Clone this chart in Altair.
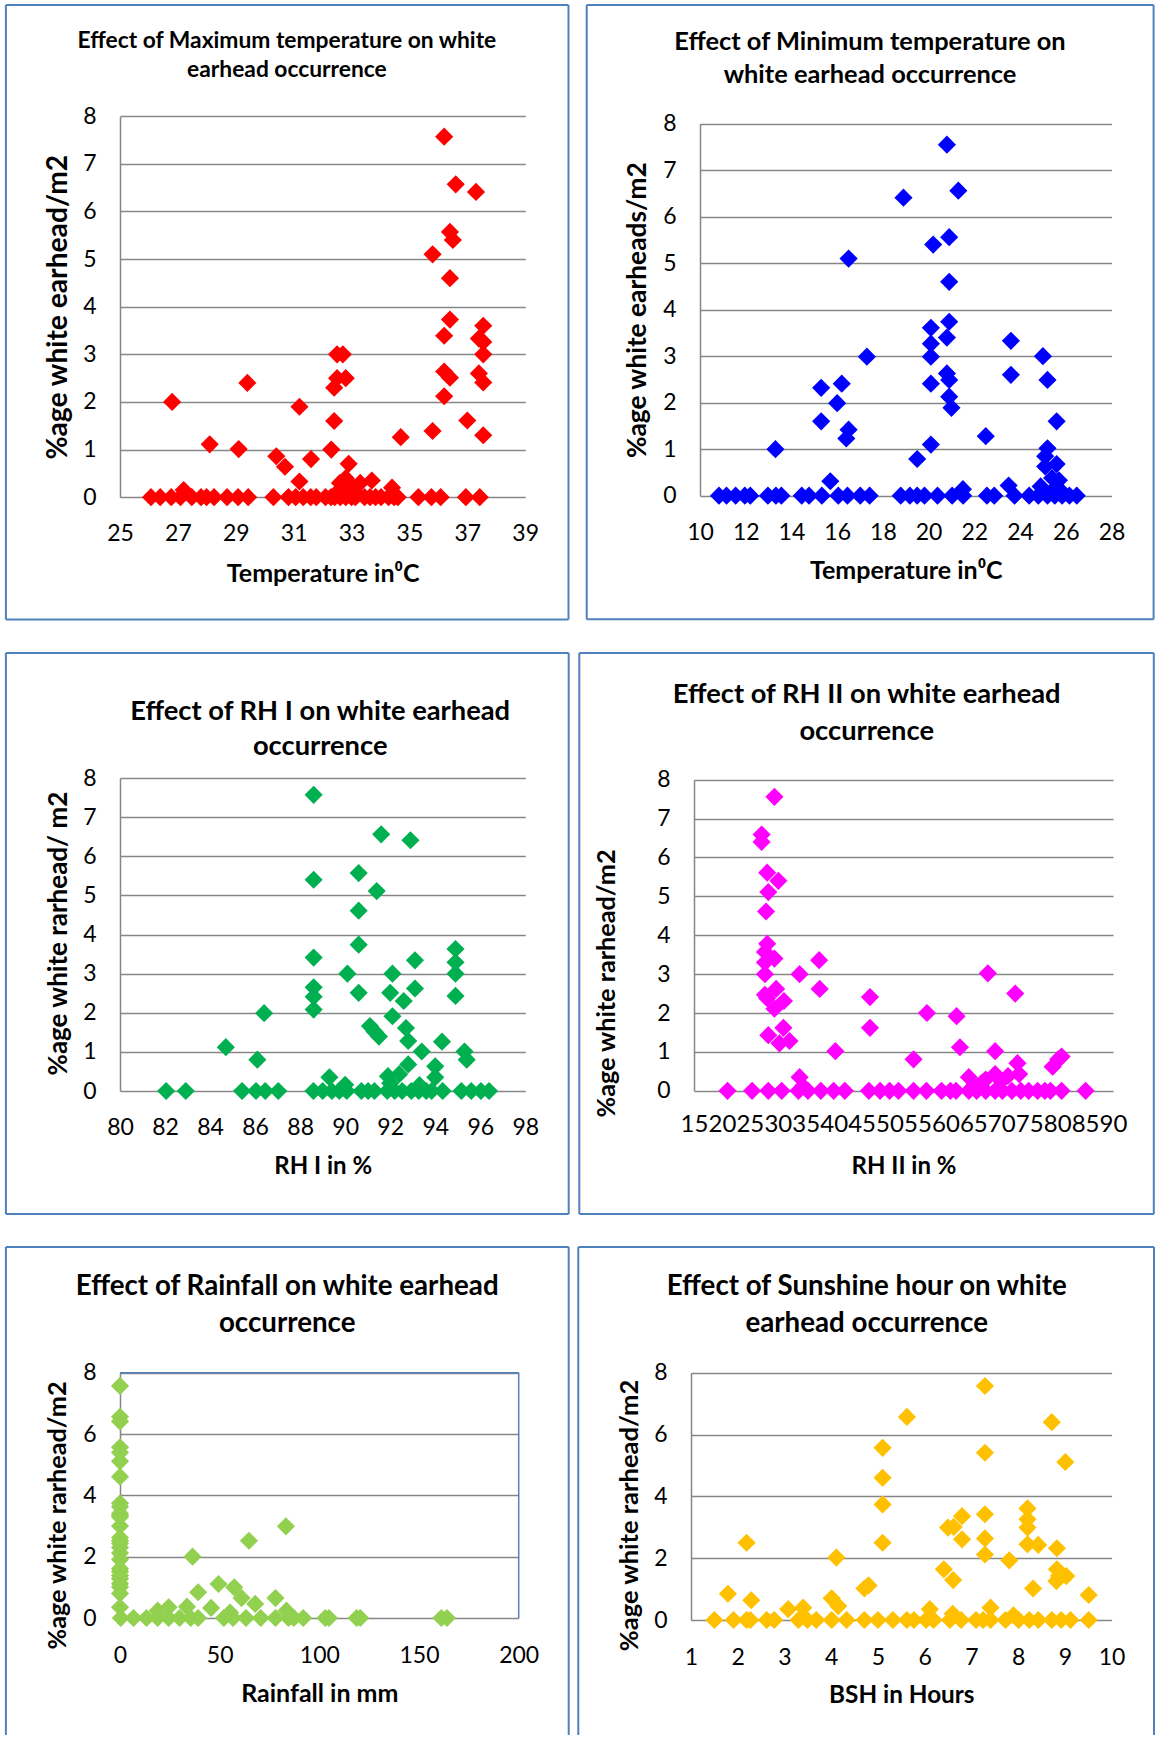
import altair as alt
import pandas as pd

FONT = "Lato"
BOX = "#4F81BD"
GRID = "#868686"

# ---- observations: (weather variable, % white earheads per m2) ----
tmax_pts = [
    (26.8, 2.0), (29.4, 2.4), (28.1, 1.11), (29.1, 1.01), (30.4, 0.86), (30.7, 0.64),
    (31.2, 1.9), (31.2, 0.33), (31.6, 0.8), (32.3, 1.0), (32.4, 1.6), (32.4, 2.3),
    (32.5, 2.5), (32.8, 2.5), (32.5, 3.0), (32.7, 3.0), (32.9, 0.7), (32.6, 0.3),
    (32.8, 0.4), (33.3, 0.3), (33.7, 0.35), (34.4, 0.2), (34.7, 1.26), (35.8, 1.39),
    (35.8, 5.1), (36.2, 7.57), (36.4, 5.57), (36.5, 5.4), (36.6, 6.57), (37.3, 6.41),
    (36.4, 4.6), (36.4, 3.73), (36.2, 3.39), (36.2, 2.64), (36.4, 2.51), (36.2, 2.12),
    (37.0, 1.61), (37.55, 3.6), (37.4, 3.33), (37.55, 3.26), (37.55, 3.0), (37.4, 2.6),
    (37.55, 2.41), (37.55, 1.3), (27.2, 0.15), (32.9, 0.15), (33.1, 0.1), (32.7, 0.2),
    (33.0, 0.25), (32.5, 0.1), (33.2, 0.05),
    (26.07, 0), (26.39, 0), (26.77, 0), (27.09, 0), (27.48, 0), (27.8, 0), (27.99, 0),
    (28.25, 0), (28.7, 0), (29.08, 0), (29.43, 0), (30.3, 0), (30.82, 0), (31.07, 0),
    (31.33, 0), (31.59, 0), (31.78, 0), (32.1, 0), (32.29, 0), (32.42, 0), (32.61, 0),
    (32.8, 0), (33.0, 0), (33.13, 0), (33.45, 0), (33.64, 0), (33.83, 0), (34.02, 0),
    (34.28, 0), (34.47, 0), (34.6, 0), (35.31, 0), (35.76, 0), (36.08, 0), (36.95, 0),
    (37.43, 0),
]

tmin_pts = [
    (13.3, 1.0), (15.3, 2.32), (15.3, 1.6), (15.7, 0.31), (16.0, 1.99), (16.2, 2.41),
    (16.4, 1.23), (16.5, 1.42), (16.5, 5.1), (17.3, 2.99), (18.9, 6.41), (19.5, 0.79),
    (20.1, 1.1), (20.1, 2.41), (20.1, 2.99), (20.1, 3.27), (20.1, 3.61), (20.2, 5.4),
    (20.8, 7.55), (20.9, 5.56), (20.9, 4.6), (20.9, 3.74), (20.8, 3.4), (20.8, 2.63),
    (20.9, 2.49), (20.9, 2.13), (21.0, 1.89), (21.3, 6.56), (21.5, 0.14), (22.5, 1.28),
    (23.6, 3.33), (23.6, 2.6), (23.5, 0.22), (25.0, 3.0), (25.2, 2.49), (25.6, 1.6),
    (25.2, 1.02), (25.1, 0.85), (25.1, 0.63), (25.6, 0.68), (25.4, 0.38), (25.7, 0.33),
    (24.9, 0.2), (25.5, 0.15), (25.8, 0.1),
    (10.83, 0), (11.16, 0), (11.56, 0), (11.96, 0), (12.2, 0), (12.97, 0), (13.32, 0),
    (13.56, 0), (14.45, 0), (14.77, 0), (15.33, 0), (16.05, 0), (16.45, 0), (17.01, 0),
    (17.42, 0), (18.78, 0), (19.18, 0), (19.5, 0), (19.82, 0), (20.39, 0), (21.03, 0),
    (21.51, 0), (22.55, 0), (22.87, 0), (23.76, 0), (24.4, 0), (24.8, 0), (25.2, 0),
    (25.52, 0), (25.84, 0), (26.16, 0), (26.48, 0),
]

rh1_pts = [
    (88.6, 7.57), (88.6, 5.4), (88.6, 3.41), (88.6, 2.65), (88.6, 2.41), (88.6, 2.08),
    (84.7, 1.12), (86.4, 1.99), (86.1, 0.8), (89.3, 0.35), (90.1, 3.0), (90.6, 5.57),
    (90.6, 4.61), (90.6, 3.74), (90.6, 2.51), (91.1, 1.66), (91.3, 1.52), (91.5, 1.39),
    (91.4, 5.11), (91.6, 6.56), (92.0, 2.51), (92.1, 3.0), (92.1, 1.91), (92.6, 2.3),
    (92.7, 1.61), (92.8, 1.28), (92.8, 0.68), (92.9, 6.41), (93.1, 3.34), (93.1, 2.62),
    (93.4, 1.01), (94.0, 0.63), (94.0, 0.35), (94.3, 1.26), (94.9, 3.63), (94.9, 3.29),
    (94.9, 3.0), (94.9, 2.43), (95.3, 1.01), (95.4, 0.8), (91.9, 0.38), (92.4, 0.43),
    (90.0, 0.16), (92.0, 0.2), (93.3, 0.15),
    (82.05, 0), (82.92, 0), (85.42, 0), (86.04, 0), (86.45, 0), (87.03, 0), (88.59, 0),
    (89.0, 0), (89.41, 0), (89.74, 0), (90.07, 0), (90.72, 0), (91.02, 0), (91.3, 0),
    (91.87, 0), (92.2, 0), (92.53, 0), (92.94, 0), (93.27, 0), (93.6, 0), (93.84, 0),
    (94.33, 0), (95.16, 0), (95.6, 0), (96.03, 0), (96.39, 0),
]

rh2_pts = [
    (29.4, 7.56), (27.1, 6.59), (27.1, 6.4), (28.1, 5.61), (30.1, 5.4), (28.3, 5.11),
    (27.9, 4.61), (28.1, 3.78), (27.7, 3.57), (27.7, 3.3), (29.4, 3.4), (27.7, 3.0),
    (29.7, 2.62), (27.7, 2.47), (28.1, 2.38), (31.1, 2.31), (29.4, 2.11), (31.0, 1.62),
    (28.3, 1.43), (30.3, 1.22), (32.1, 1.28), (33.9, 3.0), (37.4, 3.36), (37.5, 2.62),
    (33.9, 0.35), (40.3, 1.02), (46.5, 2.41), (46.5, 1.62), (54.3, 0.81), (56.7, 2.0),
    (62.0, 1.92), (62.6, 1.12), (64.2, 0.35), (67.6, 3.02), (68.9, 1.02), (68.9, 0.43),
    (71.2, 0.38), (72.5, 2.5), (72.9, 0.71), (73.2, 0.43), (79.2, 0.62), (80.2, 0.81),
    (80.8, 0.88), (67.2, 0.29), (65.2, 0.14), (34.5, 0.12), (66.5, 0.2), (70.0, 0.25),
    (21.0, 0), (25.4, 0), (28.3, 0), (30.7, 0), (33.7, 0), (35.4, 0), (37.7, 0),
    (40.0, 0), (42.0, 0), (46.3, 0), (48.3, 0), (50.0, 0), (51.6, 0), (54.3, 0),
    (56.6, 0), (59.3, 0), (60.9, 0), (61.9, 0), (64.2, 0), (65.6, 0), (67.2, 0),
    (68.9, 0), (70.2, 0), (71.9, 0), (73.5, 0), (74.9, 0), (76.5, 0), (77.8, 0),
    (78.8, 0), (80.8, 0), (85.1, 0),
]

rain_pts = [
    (0, 7.57), (0, 6.56), (0, 6.41), (0, 5.57), (0, 5.4), (0, 5.11), (0, 4.61),
    (0, 3.74), (0, 3.63), (0, 3.41), (0, 3.34), (0, 3.29), (0, 3.0), (0, 2.62),
    (0, 2.51), (0, 2.43), (0, 2.3), (0, 2.12), (0, 1.91), (0, 1.61), (0, 1.52),
    (0, 1.39), (0, 1.28), (0, 1.12), (0, 1.01), (0, 0.8), (0, 0.35),
    (36.4, 2.0), (64.7, 2.52), (83.2, 2.99), (49.4, 1.11), (57.3, 1.0), (61.0, 0.65),
    (39.2, 0.84), (78.0, 0.65), (33.6, 0.37), (45.7, 0.33), (24.4, 0.35), (67.8, 0.46),
    (18.9, 0.24), (55.2, 0.18), (83.5, 0.24),
    (0.4, 0), (6.8, 0), (13.3, 0), (18.9, 0), (24.4, 0), (29.9, 0), (35.5, 0),
    (39.2, 0), (52.1, 0), (56.7, 0), (63.2, 0), (70.6, 0), (78.0, 0), (84.5, 0),
    (87.2, 0), (91.9, 0), (103.0, 0), (104.8, 0), (118.7, 0), (120.5, 0), (161.2, 0),
    (164.0, 0),
]

bsh_pts = [
    (7.29, 7.57), (5.62, 6.57), (8.72, 6.4), (5.1, 5.57), (7.29, 5.41), (9.01, 5.11),
    (5.1, 4.6), (5.1, 3.74), (5.1, 2.5), (2.19, 2.5), (4.11, 2.02), (6.8, 3.36),
    (7.29, 3.42), (8.2, 3.61), (8.2, 3.26), (8.2, 2.99), (6.5, 2.99), (6.62, 3.01),
    (6.8, 2.61), (7.29, 2.64), (7.29, 2.12), (8.2, 2.45), (8.43, 2.43), (8.83, 2.32),
    (7.81, 1.93), (6.41, 1.64), (6.61, 1.29), (8.83, 1.64), (8.87, 1.42), (9.03, 1.42),
    (8.82, 1.26), (8.32, 1.02), (9.51, 0.81), (4.71, 1.02), (4.8, 1.12), (1.79, 0.85),
    (2.29, 0.64), (4.01, 0.7), (4.15, 0.45), (3.08, 0.35), (3.4, 0.4), (6.11, 0.35),
    (7.41, 0.4), (6.6, 0.2), (7.9, 0.15),
    (1.5, 0), (1.91, 0), (2.19, 0), (2.27, 0), (2.62, 0), (2.78, 0), (3.3, 0),
    (3.49, 0), (3.68, 0), (4.01, 0), (4.33, 0), (4.71, 0), (5.0, 0), (5.32, 0),
    (5.62, 0), (5.77, 0), (6.03, 0), (6.19, 0), (6.54, 0), (6.78, 0), (7.1, 0),
    (7.25, 0), (7.41, 0), (7.73, 0), (8.01, 0), (8.24, 0), (8.43, 0), (8.72, 0),
    (8.92, 0), (9.12, 0), (9.51, 0),
]

# ---- axis ticks ----
tmax_ticks = [25, 27, 29, 31, 33, 35, 37, 39]
tmin_ticks = [10, 12, 14, 16, 18, 20, 22, 24, 26, 28]
rh1_ticks = [80, 82, 84, 86, 88, 90, 92, 94, 96, 98]
rh2_ticks = [15, 20, 25, 30, 35, 40, 45, 50, 55, 60, 65, 70, 75, 80, 85, 90]
rain_ticks = [0, 50, 100, 150, 200]
bsh_ticks = [1, 2, 3, 4, 5, 6, 7, 8, 9, 10]
y_ticks_1 = [0, 1, 2, 3, 4, 5, 6, 7, 8]
y_ticks_2 = [0, 2, 4, 6, 8]

# ---- panel layout (pixels, relative to each plot's left edge and its box top) ----
panels = [
    dict(pts=tmax_pts, color="#FF0000", xdom=[25, 39], xticks=tmax_ticks, yticks=y_ticks_1,
         W=405.2, H=492.2, top=111.2, box=(-114.1, 448.5, 614.5), closed=True,
         title=["Effect of Maximum temperature on white", "earhead occurrence"],
         tx=166.9, ty=[35.7, 64.5], tsize=22.8,
         ytitle="%age white earhead/m2", ytx=-61.3, yty=301.7, ytsize=28.2,
         xtitle="Temperature in\u2070C", xty=76.5, xtsize=25,
         xlab=23, xpad=25, frame=False),
    dict(pts=tmin_pts, color="#0000FF", xdom=[10, 28], xticks=tmin_ticks, yticks=y_ticks_1,
         W=411.5, H=490.7, top=118.7, box=(-113.3, 453.6, 614.2), closed=True,
         title=["Effect of Minimum temperature on", "white earhead occurrence"],
         tx=170.0, ty=[37.2, 70.0], tsize=25.4,
         ytitle="%age white earheads/m2", ytx=-62.5, yty=304.7, ytsize=26.3,
         xtitle="Temperature in\u2070C", xty=74.8, xtsize=25,
         xlab=23, xpad=26, frame=False),
    dict(pts=rh1_pts, color="#00B050", xdom=[80, 98], xticks=rh1_ticks, yticks=y_ticks_1,
         W=405.3, H=438.0, top=125.0, box=(-114.1, 448.7, 561.0), closed=True,
         title=["Effect of RH I on white earhead", "occurrence"],
         tx=200.2, ty=[58.9, 94.1], tsize=27.3,
         ytitle="%age white rarhead/ m2", ytx=-62.0, yty=280.0, ytsize=26,
         xtitle="RH I in %", xty=75.6, xtsize=24,
         xlab=23, xpad=25, frame=False),
    dict(pts=rh2_pts, color="#FF00FF", xdom=[15, 90], xticks=rh2_ticks, yticks=y_ticks_1,
         W=419.0, H=437.8, top=126.7, box=(-114.7, 459.8, 561.0), closed=True,
         title=["Effect of RH II on white earhead", "occurrence"],
         tx=172.7, ty=[42.2, 78.5], tsize=27.3,
         ytitle="%age white rarhead/m2", ytx=-87.2, yty=330.0, ytsize=25.2,
         xtitle="RH II in %", xty=75.8, xtsize=24,
         xlab=24, xpad=22, frame=False),
    dict(pts=rain_pts, color="#92D050", xdom=[0, 200], xticks=rain_ticks, yticks=y_ticks_2,
         W=398.7, H=371.0, top=125.7, box=(-114.1, 448.7, 488.0), closed=False,
         title=["Effect of Rainfall on white earhead", "occurrence"],
         tx=167.2, ty=[40.1, 76.8], tsize=27.7,
         ytitle="%age white rarhead/m2", ytx=-62.9, yty=268.0, ytsize=25.2,
         xtitle="Rainfall in mm", xty=75.3, xtsize=25,
         xlab=23, xpad=26, frame=True),
    dict(pts=bsh_pts, color="#FFC000", xdom=[1, 10], xticks=bsh_ticks, yticks=y_ticks_2,
         W=420.6, H=373.0, top=125.7, box=(-112.7, 463.0, 488.0), closed=False,
         title=["Effect of Sunshine hour on white", "earhead occurrence"],
         tx=175.7, ty=[40.1, 76.8], tsize=27.7,
         ytitle="%age white rarhead/m2", ytx=-61.1, yty=268.0, ytsize=25.5,
         xtitle="BSH in Hours", xty=75.0, xtsize=24.3,
         xlab=23, xpad=26, frame=False),
]


def build_panel(p):
    W, H, top = p["W"], p["H"], p["top"]
    left, right, bottom = p["box"]
    one = alt.Chart(pd.DataFrame({"k": [0]}))
    layers = []

    # chart-area border
    edges = [
        dict(x=alt.value(left), x2=alt.value(right), y=alt.value(0)),
        dict(x=alt.value(left), y=alt.value(0), y2=alt.value(bottom)),
        dict(x=alt.value(right), y=alt.value(0), y2=alt.value(bottom)),
    ]
    if p["closed"]:
        edges.append(dict(x=alt.value(left), x2=alt.value(right), y=alt.value(bottom)))
    for e in edges:
        layers.append(one.mark_rule(color=BOX, strokeWidth=2).encode(**e))

    # plot-area border (rainfall panel only)
    if p["frame"]:
        layers.append(one.mark_rule(color=BOX, strokeWidth=1.5).encode(
            x=alt.value(0), x2=alt.value(W), y=alt.value(top)))
        layers.append(one.mark_rule(color=BOX, strokeWidth=1.5).encode(
            x=alt.value(W), y=alt.value(top), y2=alt.value(H)))

    # two-line chart title
    for line, ty in zip(p["title"], p["ty"]):
        layers.append(one.mark_text(font=FONT, fontSize=p["tsize"], fontWeight="bold",
                                    align="center", baseline="middle", color="black").encode(
            x=alt.value(p["tx"]), y=alt.value(ty), text=alt.value(line)))

    df = pd.DataFrame(p["pts"], columns=["x", "y"])
    pts = alt.Chart(df).mark_point(shape="diamond", filled=True, size=330, opacity=1,
                                   color=p["color"], strokeWidth=0).encode(
        x=alt.X("x:Q",
                scale=alt.Scale(domain=p["xdom"], nice=False, zero=False),
                axis=alt.Axis(values=p["xticks"], format="d", grid=False, domain=False,
                              ticks=False, tickSize=0, labelFont=FONT,
                              labelFontSize=p["xlab"], labelColor="black",
                              labelPadding=p["xpad"], labelFlush=False, labelOverlap=False,
                              title=p["xtitle"], titleFont=FONT, titleFontSize=p["xtsize"],
                              titleFontWeight="bold", titleColor="black",
                              titleX=W / 2, titleY=p["xty"], titleAlign="center",
                              titleBaseline="middle")),
        y=alt.Y("y:Q",
                scale=alt.Scale(domain=[0, 8], range=[H, top], nice=False),
                axis=alt.Axis(values=p["yticks"], format="d", grid=True, gridColor=GRID,
                              gridWidth=1.5, domain=True, domainColor=GRID, domainWidth=1.5,
                              ticks=False, tickSize=0, labelFont=FONT, labelFontSize=23,
                              labelColor="black", labelPadding=24, labelOverlap=False,
                              title=p["ytitle"], titleFont=FONT, titleFontSize=p["ytsize"],
                              titleFontWeight="bold", titleColor="black",
                              titleX=p["ytx"], titleY=p["yty"], titleAngle=270,
                              titleAlign="center", titleBaseline="middle")),
    )
    layers.append(pts)
    return alt.layer(*layers).properties(width=W, height=H)


charts = [build_panel(p) for p in panels]
row1 = alt.hconcat(charts[0], charts[1], spacing=15)
row2 = alt.hconcat(charts[2], charts[3], spacing=8)
row3 = alt.hconcat(charts[4], charts[5], spacing=7)

chart = alt.vconcat(row1, row2, row3, spacing=31).properties(
    padding={"left": 4, "top": 4, "right": 0, "bottom": 0},
    background="white",
).configure_view(strokeWidth=0)

chart.save("out.html", embed_options={"renderer": "svg", "actions": False})
